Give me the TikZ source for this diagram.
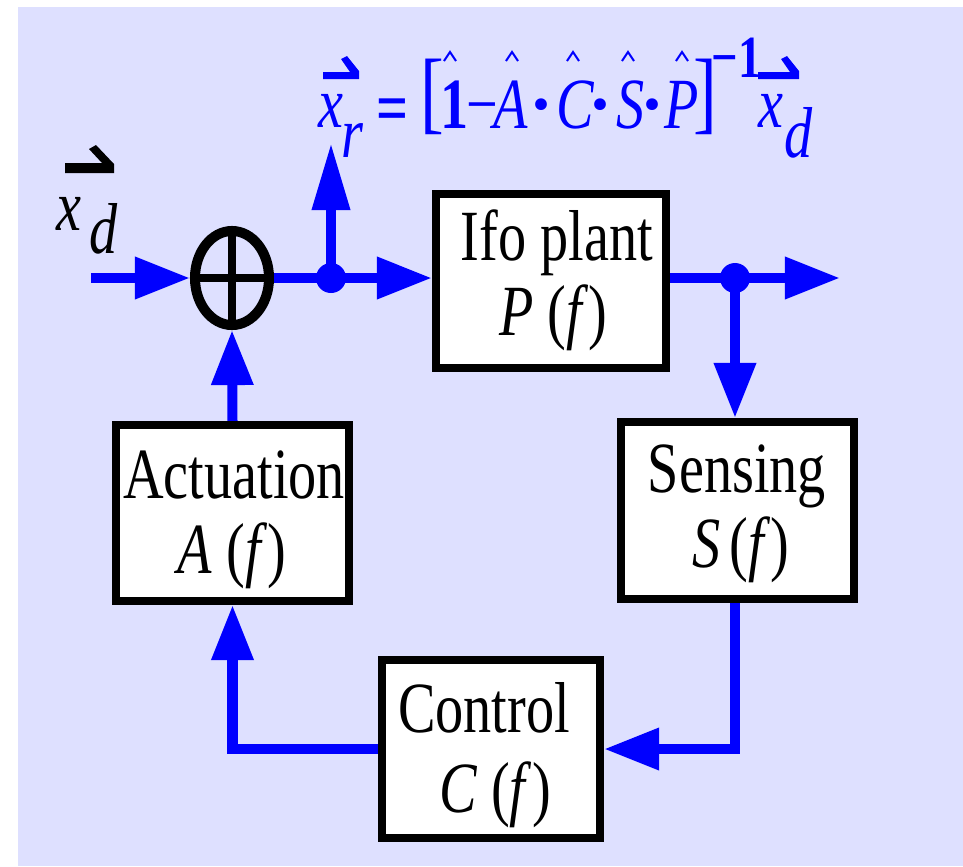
\documentclass[tikz,border=0pt]{standalone}
\usepackage{fontspec}
\setmainfont{Liberation Serif}
\usepackage{graphicx}
\usetikzlibrary{arrows.meta,shapes.geometric}
\definecolor{bg}{RGB}{222,224,255}
\definecolor{fb}{RGB}{0,0,255}
\newcommand\sqz[1]{\scalebox{0.78}[1]{#1}}
\begin{document}
\begin{tikzpicture}[x=0.01cm,y=-0.01cm,
  bwire/.style={draw=fb,line width=0.1cm},
  tipa/.style={-{Triangle[length=0.55cm,width=0.4cm]}},
  tipup/.style={-{Triangle[length=0.67cm,width=0.36cm]}},
  blockbox/.style={draw=black,fill=white,line width=0.08cm,inner sep=0pt},
  lbl/.style={inner sep=0pt,font=\fontsize{20.5}{24}\selectfont,anchor=base},
  eqt/.style={inner sep=0pt,text=fb,font=\fontsize{20.5}{24}\selectfont,anchor=base west},
  eqc/.style={inner sep=0pt,text=fb,font=\fontsize{20.5}{24}\selectfont,anchor=base},
  jdot/.style={circle,fill=fb,inner sep=0pt,minimum size=0.3cm},
  hatl/.style={draw=fb,line width=0.02cm}]
\useasboundingbox (0,0) rectangle (963,866);
\fill[bg] (18,7) rectangle (963,866);

% blocks
\node[blockbox,minimum width=2.30cm,minimum height=1.74cm] (P) at (551,281) {};
\node[blockbox,minimum width=2.33cm,minimum height=1.76cm] (A) at (232.5,513) {};
\node[blockbox,minimum width=2.33cm,minimum height=1.77cm] (S) at (737.5,510.5) {};
\node[blockbox,minimum width=2.18cm,minimum height=1.78cm] (C) at (491,749) {};

\node[lbl] (Pt1) at (557,260) {\sqz{Ifo plant}};
\node[lbl] (Pt2) at (553,335) {\sqz{\textit{P} (\textit{f})}};
\node[lbl] (At1) at (234,498) {\sqz{Actuation}};
\node[lbl] (At2) at (232,573) {\sqz{\textit{A} (\textit{f})}};
\node[lbl] (St1) at (737,492) {\sqz{Sensing}};
\node[lbl] (St2) at (741,567) {\sqz{\textit{S}\,(\textit{f})}};
\node[lbl] (Ct1) at (484,732) {\sqz{Control}};
\node[lbl] (Ct2) at (495,812) {\sqz{\textit{C} (\textit{f})}};

% summing junction
\node[ellipse,draw=black,line width=0.1cm,minimum width=0.74cm,minimum height=0.94cm,inner sep=0pt] (sum) at (232,278) {};
\draw[line width=0.08cm] (sum.north) -- (sum.south) (sum.west) -- (sum.east);

% coordinates
\coordinate (in) at (91,278);
\coordinate (j1) at (331,278);
\coordinate (j2) at (735,278);
\coordinate (up) at (331,143);
\coordinate (out) at (840,278);

% wires
\draw[bwire,tipa] (in) -- (sum.west);
\draw[bwire] (sum.east) -- (j1);
\draw[bwire,tipa] (j1) -- (j1 -| P.west);
\draw[bwire,tipup] (j1) -- (up);
\draw[bwire] (j2 -| P.east) -- (j2);
\draw[bwire,tipa] (j2) -- (out);
\draw[bwire,tipa] (j2) -- (j2 |- S.north);
\draw[bwire,tipa] (j2 |- S.south) |- (C.east);
\draw[bwire,tipa] (C.west) -| (A.south);
\draw[bwire,tipa] (A.north) -- (sum.south);
\node[jdot] (j1d) at (j1) {};
\node[jdot] (j2d) at (j2) {};

% input label x_d
\fill[black] (65,173) -- (114,173) -- (114,164) -- (96,145) -- (89,149) -- (102,163) -- (65,163) -- cycle;
\node[eqt,text=black] (xdi) at (56,230) {\sqz{\textit{x}}};
\node[eqt,text=black] (xdd) at (89,253) {\sqz{\textit{d}}};

% equation
\fill[fb] (323,79) -- (359,79) -- (359,71) -- (347,56) -- (341,59) -- (350,72) -- (323,72) -- cycle;
\node[eqt] (exr) at (318,127) {\sqz{\textit{x}}};
\node[eqt] (err) at (341,157) {\sqz{\textit{r}}};
\node[eqt] (eeq) at (376,132) {\sqz{\textbf{=}}};
\node[eqt,font=\fontsize{26}{30}\selectfont] (elb) at (420,122) {\sqz{[}};
\node[eqt] (eone) at (440,128) {\sqz{\textbf{1}}};
\node[eqt] (emin) at (466,128) {\sqz{−}};
\node[eqt] (eA) at (493,128) {\sqz{\textit{A}}};
\node[eqc] (ed1) at (542,128) {\textbf{·}};
\node[eqt] (eC) at (556,128) {\sqz{\textit{C}}};
\node[eqc] (ed2) at (601,128) {\textbf{·}};
\node[eqt] (eS) at (616,128) {\sqz{\textit{S}}};
\node[eqc] (ed3) at (653,128) {\textbf{·}};
\node[eqt] (eP) at (664,128) {\sqz{\textit{P}}};
\node[eqt,font=\fontsize{26}{30}\selectfont] (erb) at (693,122) {\sqz{]}};
\node[eqt,font=\fontsize{17}{20}\selectfont] (eexp) at (711,77) {\sqz{\textbf{−1}}};
\fill[fb] (758,79) -- (799,79) -- (799,71) -- (787,56) -- (781,59) -- (790,72) -- (758,72) -- cycle;
\node[eqt] (exd) at (758,127) {\sqz{\textit{x}}};
\node[eqt] (edd) at (784,157) {\sqz{\textit{d}}};
% hats
\draw[hatl] (444,61) -- (450,52) -- (456,61);
\draw[hatl] (506,61) -- (512,52) -- (518,61);
\draw[hatl] (567,61) -- (573,52) -- (579,61);
\draw[hatl] (622,61) -- (628,52) -- (634,61);
\draw[hatl] (676,61) -- (682,52) -- (688,61);
\end{tikzpicture}
\end{document}
